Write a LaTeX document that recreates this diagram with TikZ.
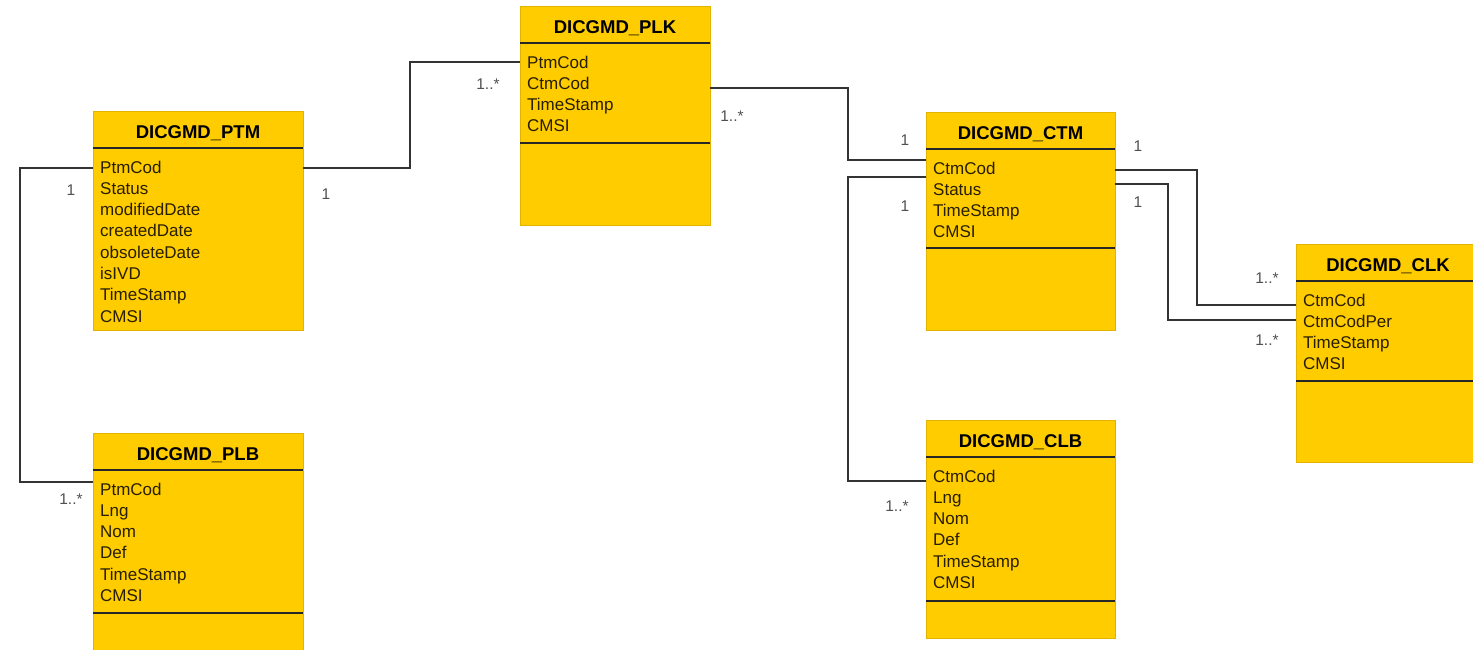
\documentclass[tikz,border=0pt]{standalone}
\usepackage{fontspec}
\setmainfont{Liberation Sans}
\usetikzlibrary{calc,positioning}
\definecolor{umlfill}{RGB}{255,204,0}
\definecolor{umledge}{RGB}{226,180,0}
\definecolor{umltext}{RGB}{40,30,0}
\definecolor{multgray}{RGB}{80,80,80}
\tikzset{
    classbox/.style = {rectangle, draw=umledge, fill=umlfill, inner sep=0pt, outer sep=0pt, anchor=north west},
    classname/.style = {font=\fontsize{18.5}{20}\selectfont\bfseries, text=black, anchor=base},
    attr/.style = {font=\fontsize{17}{19}\selectfont, text=umltext, inner sep=0pt, anchor=base west},
    sepline/.style = {draw=black!85, line width=1.3pt},
    assoc/.style = {draw=black!80, line width=1.4pt},
    mult/.style = {font=\fontsize{15.5}{17}\selectfont, text=multgray}
}
% one class: name, x, y, width, height, title, divider offset, attributes
\newcommand{\umlclass}[8]{%
  \node[classbox, minimum width=#4, minimum height=#5] (#1) at (#2,#3) {};
  \node[classname] (#1-name) at ($(#1.north)+(0,27.5)$) {#6};
  \draw[sepline] ($(#1.north west)+(0,37)$) -- ($(#1.north east)+(0,37)$);
  \foreach \a [count=\i] in {#8}
    \node[attr] (#1-\i) at ($(#1.north west)+(7,{62+(\i-1)*21.3})$) {\a};
  \if\relax\detokenize{#7}\relax\else
    \draw[sepline] ($(#1.north west)+(0,#7)$) -- ($(#1.north east)+(0,#7)$);
  \fi
}
\begin{document}
\begin{tikzpicture}[x=1pt, y=-1pt]
    \useasboundingbox (0,0) rectangle (1473,649);

    \umlclass{ptm}{93}{111}{210}{219}{DICGMD\_PTM}{}{PtmCod,Status,modifiedDate,createdDate,obsoleteDate,isIVD,TimeStamp,CMSI}
    \umlclass{plk}{520}{6}{190}{219}{DICGMD\_PLK}{137}{PtmCod,CtmCod,TimeStamp,CMSI}
    \umlclass{ctm}{926}{112}{189}{218}{DICGMD\_CTM}{136}{CtmCod,Status,TimeStamp,CMSI}
    \umlclass{clk}{1296}{244}{184}{218}{DICGMD\_CLK}{137}{CtmCod,CtmCodPer,TimeStamp,CMSI}
    \umlclass{clb}{926}{420}{189}{218}{DICGMD\_CLB}{181}{CtmCod,Lng,Nom,Def,TimeStamp,CMSI}
    \umlclass{plb}{93}{433}{210}{224}{DICGMD\_PLB}{180}{PtmCod,Lng,Nom,Def,TimeStamp,CMSI}

    % associations
    \draw[assoc] ($(ptm.north west)+(0,57)$) -- ++(-73,0) |- ($(plb.north west)+(0,49)$);
    \draw[assoc] ($(ptm.north east)+(0,57)$) -- ++(107,0) |- ($(plk.north west)+(0,56)$);
    \draw[assoc] ($(plk.north east)+(0,82)$) -- ++(138,0) |- ($(ctm.north west)+(0,48)$);
    \draw[assoc] ($(ctm.north west)+(0,65)$) -- ++(-78,0) |- ($(clb.north west)+(0,61)$);
    \draw[assoc] ($(ctm.north east)+(0,58)$) -- ++(82,0) |- ($(clk.north west)+(0,61)$);
    \draw[assoc] ($(ctm.north east)+(0,72)$) -- ++(53,0) |- ($(clk.north west)+(0,76)$);

    % multiplicities
    \node[mult] (m-ptm-l) at (71,190) {1};
    \node[mult] (m-plb) at (71,499) {1..*};
    \node[mult] (m-ptm-r) at (326,194) {1};
    \node[mult] (m-plk-l) at (488,84) {1..*};
    \node[mult] (m-plk-r) at (732,116) {1..*};
    \node[mult] (m-ctm-a) at (905,140) {1};
    \node[mult] (m-ctm-b) at (905,206) {1};
    \node[mult] (m-clb) at (897,506) {1..*};
    \node[mult] (m-ctm-c) at (1138,146) {1};
    \node[mult] (m-ctm-d) at (1138,202) {1};
    \node[mult] (m-clk-a) at (1267,278) {1..*};
    \node[mult] (m-clk-b) at (1267,340) {1..*};
\end{tikzpicture}
\end{document}
